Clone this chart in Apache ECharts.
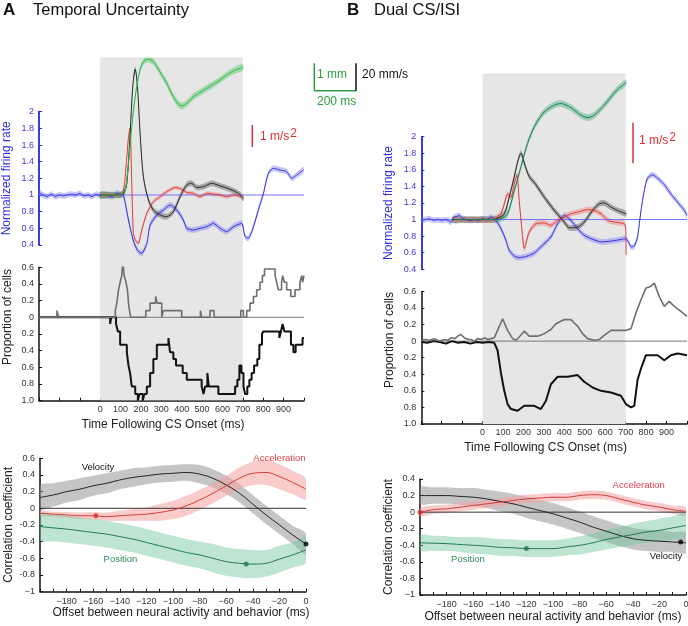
<!DOCTYPE html>
<html><head><meta charset="utf-8">
<script src="https://cdn.jsdelivr.net/npm/echarts@6/dist/echarts.min.js"></script>
<style>html,body{margin:0;padding:0;background:#fff}#c{width:688px;height:626px}</style>
</head><body><div id="c"></div>
<script>
const FONT = '"Liberation Sans", Arial, Helvetica, sans-serif';

// ================= PANEL A : Temporal Uncertainty =================
// firing rate (normalized), time in ms
const tA_fr = [-300,-280,-260,-240,-220,-200,-180,-160,-140,-120,-100,-80,-60,-40,-20,0,20,40,60,80,100,114,139,163,185,204,229,245,278,310,343,376,408,425,457,490,523,556,588,621,654,694,711,727,752,776,801,825,850,882,915,940,964,997];
const frA  = [1.03,1.0,0.98,1.01,0.98,1.0,0.99,1.0,1.01,1.0,1.02,0.99,1.0,0.98,1.01,0.99,1.0,0.99,0.98,1.02,1.01,1.0,0.7,0.45,0.33,0.3,0.42,0.64,0.76,0.82,0.88,0.82,0.7,0.6,0.58,0.6,0.62,0.66,0.6,0.56,0.62,0.66,0.5,0.48,0.62,0.82,1.02,1.26,1.32,1.3,1.28,1.2,1.24,1.3];
const frA_hw = 0.035;
// eye position (arbitrary units drawn on the same scale)
const tA_pos = [0,50,100,110,123,139,155,172,188,204,221,237,261,278,300,327,359,384,400,425,457,490,523,556,588,621,654,699];
const posA   = [1.0,1.0,1.0,1.02,1.06,1.38,1.82,2.18,2.42,2.56,2.62,2.63,2.6,2.54,2.45,2.34,2.18,2.09,2.07,2.1,2.18,2.23,2.28,2.33,2.38,2.44,2.49,2.53];
const posA_hw = 0.04;
// eye velocity
const tA_vel = [0,50,100,115,131,147,160,172,183,196,212,237,261,294,327,359,392,425,449,474,507,547,588,637,678,703];
const velA   = [1.0,1.0,1.0,1.02,1.14,1.74,2.3,2.51,2.3,1.74,1.22,0.94,0.82,0.76,0.74,0.8,0.98,1.12,1.14,1.09,1.1,1.14,1.11,1.07,1.02,0.96];
const velA_hw = 0.035;
// eye acceleration
const tA_acc = [0,50,100,112,123,139,147,155,163,175,188,204,229,261,294,327,368,400,425,457,490,523,556,588,621,654,699];
const accA   = [1.0,1.0,1.0,1.03,1.22,1.7,1.8,1.14,0.54,0.45,0.42,0.58,0.78,0.92,0.98,1.04,1.09,1.07,1.03,1.02,0.98,1.02,1.01,1.0,0.98,1.0,0.98];
const accA_hw = 0.025;
// proportion of cells (increase: up, decrease: down)
const tA_up = [-300,-212,-203,74,82,90,98,106,111,118,127,134,139,144,150,224,245,272,280,302,310,400,492,498,539,559,690,703,719,735,752,768,784,796,806,858,866,874,890,895,904,915,935,956,980,989,993,1000];
const upA   = [0,0.08,0,0.08,0.17,0.33,0.42,0.5,0.67,0.5,0.42,0.33,0.17,0.08,0,0.08,0.17,0.25,0.17,0,0.08,0,0.08,0,0.08,0,0.08,0,0.08,0.17,0.25,0.33,0.42,0.5,0.58,0.5,0.42,0.33,0.42,0.5,0.42,0.33,0.25,0.33,0.42,0.5,0.42,0.5];
const tA_lo = [-300,49,54,78,87,98,131,139,147,155,172,185,193,209,217,229,245,261,278,335,343,359,372,405,425,498,507,515,526,533,580,662,673,683,693,703,711,722,732,743,755,771,781,794,800,879,887,895,904,936,948,959,993,1000];
const loA   = [0,0.08,0,0.08,0.17,0.33,0.42,0.58,0.67,0.83,0.92,1.0,0.92,1.0,0.92,0.83,0.67,0.5,0.33,0.25,0.42,0.5,0.58,0.67,0.75,0.83,0.92,0.83,0.67,0.83,0.92,0.83,0.75,0.58,0.67,0.83,0.92,0.83,0.75,0.67,0.58,0.5,0.33,0.2,0.17,0.25,0.17,0.08,0.17,0.33,0.42,0.33,0.25,0.25];
// correlation vs lag
const lag = [-200,-190,-180,-170,-160,-150,-140,-130,-120,-110,-100,-90,-80,-70,-60,-50,-40,-30,-20,-10,0];
const corrA_vel    = [0.13,0.16,0.2,0.23,0.27,0.3,0.34,0.37,0.39,0.41,0.42,0.43,0.41,0.36,0.28,0.18,0.05,-0.08,-0.2,-0.32,-0.43];
const corrA_vel_hw = [0.14,0.14,0.13,0.13,0.12,0.12,0.11,0.11,0.1,0.1,0.1,0.1,0.11,0.11,0.11,0.11,0.11,0.11,0.11,0.11,0.12];
const corrA_acc    = [-0.06,-0.07,-0.08,-0.09,-0.09,-0.1,-0.09,-0.08,-0.07,-0.05,-0.02,0.03,0.1,0.18,0.27,0.36,0.42,0.43,0.38,0.31,0.23];
const corrA_acc_hw = [0.03,0.03,0.035,0.04,0.045,0.05,0.06,0.07,0.08,0.1,0.11,0.12,0.12,0.12,0.12,0.13,0.14,0.15,0.15,0.14,0.12];
const corrA_pos    = [-0.22,-0.235,-0.25,-0.27,-0.29,-0.31,-0.34,-0.37,-0.41,-0.45,-0.49,-0.53,-0.56,-0.6,-0.64,-0.66,-0.67,-0.66,-0.61,-0.56,-0.5];
const corrA_pos_hw = [0.16,0.16,0.16,0.16,0.16,0.16,0.16,0.16,0.16,0.16,0.16,0.16,0.16,0.17,0.17,0.17,0.17,0.16,0.16,0.15,0.15];
const peakA_acc = [-158,-0.09], peakA_pos = [-45,-0.67], peakA_vel = [0,-0.43];

// ================= PANEL B : Dual CS/ISI =================
const tB_fr = [-300,-280,-260,-240,-220,-200,-180,-155,-139,-125,-114,-100,-80,-60,-40,-20,0,20,41,65,90,114,130,155,180,204,230,255,285,334,367,400,432,465,497,530,579,628,677,701,718,726,742,758,775,791,807,832,856,889,921,954,987,1000];
const frB   = [0.99,1.0,1.01,0.99,1.0,0.99,1.0,0.97,1.03,1.04,1.05,1.02,1.0,0.99,1.0,0.99,1.01,1.0,1.03,0.99,0.89,0.75,0.63,0.56,0.54,0.55,0.57,0.6,0.67,0.79,0.95,1.05,0.99,0.89,0.81,0.77,0.73,0.74,0.76,0.77,0.71,0.67,0.68,0.79,1.11,1.35,1.5,1.54,1.5,1.42,1.31,1.21,1.11,1.05];
const frB_hw = 0.035;
const tB_pos = [-147,-100,-50,0,50,90,122,155,188,220,253,302,351,383,432,481,514,546,595,628,660,701];
const posB   = [1.0,1.0,1.0,1.0,1.0,1.01,1.07,1.35,1.64,1.92,2.12,2.3,2.38,2.4,2.35,2.26,2.23,2.26,2.38,2.48,2.57,2.65];
const posB_hw = 0.04;
const tB_vel = [-147,-100,-50,0,50,70,106,130,155,174,188,204,228,261,302,351,400,424,465,497,538,571,595,628,660,701];
const velB   = [1.0,1.0,1.0,1.0,1.0,1.01,1.07,1.27,1.52,1.72,1.8,1.68,1.52,1.42,1.27,1.11,0.97,0.9,0.91,0.97,1.11,1.19,1.2,1.15,1.11,1.07];
const velB_hw = 0.035;
const tB_acc = [-147,-100,-50,0,50,90,106,122,139,155,168,179,191,204,228,261,302,334,367,400,432,465,514,546,579,612,644,693,700,702];
const accB   = [1.0,1.0,1.0,1.0,1.0,1.07,1.19,1.31,1.27,1.44,1.54,1.23,0.91,0.65,0.85,0.95,0.96,0.93,0.99,1.03,1.07,1.09,1.12,1.11,1.07,0.99,0.97,0.95,0.9,0.57];
const accB_hw = 0.035;
const tB_up = [-300,-285,-260,-236,-210,-188,-170,-155,-135,-122,-106,-90,-70,-57,-40,-24,-5,8,25,41,57,73,98,122,147,163,179,204,228,269,302,334,359,400,432,465,489,514,546,571,595,628,660,701,726,750,775,799,823,840,864,889,913,938,970,1000];
const upB   = [0,0.02,0.01,0.03,0.0,0.02,0.01,0.04,0.03,0.06,0.08,0.04,0.02,0.02,0.0,0.03,0.02,0.04,0.02,0.03,0.04,0.13,0.27,0.13,0.03,0.01,0.05,0.12,0.06,0.06,0.09,0.14,0.21,0.26,0.26,0.18,0.09,0.03,0.01,0.02,0.07,0.13,0.13,0.13,0.15,0.34,0.5,0.64,0.66,0.7,0.54,0.42,0.48,0.42,0.36,0.3];
const tB_lo = [-300,-270,-240,-210,-180,-150,-120,-90,-60,-30,0,30,57,73,90,106,122,139,171,204,253,285,310,334,367,416,465,497,538,579,628,677,701,726,742,758,775,799,856,889,921,954,1000];
const loB   = [0.01,0.02,0,0.01,0.03,0,0.02,0.01,0.03,0.01,0.02,0.01,0.02,0.11,0.39,0.6,0.76,0.82,0.84,0.78,0.78,0.82,0.72,0.52,0.43,0.43,0.41,0.49,0.56,0.6,0.62,0.66,0.76,0.8,0.78,0.47,0.33,0.17,0.17,0.23,0.17,0.15,0.17];
const corrB_vel    = [0.2,0.2,0.2,0.19,0.18,0.16,0.13,0.1,0.06,0.02,-0.02,-0.07,-0.12,-0.18,-0.23,-0.28,-0.32,-0.34,-0.35,-0.36,-0.37];
const corrB_vel_hw = [0.1,0.1,0.1,0.1,0.11,0.11,0.12,0.12,0.13,0.13,0.13,0.13,0.13,0.13,0.13,0.13,0.13,0.13,0.13,0.12,0.12];
const corrB_acc    = [0.0,0.03,0.04,0.06,0.08,0.1,0.12,0.14,0.16,0.17,0.18,0.18,0.2,0.21,0.2,0.16,0.12,0.085,0.06,0.03,0.01];
const corrB_acc_hw = [0.05,0.05,0.05,0.05,0.05,0.05,0.05,0.05,0.05,0.05,0.05,0.05,0.05,0.05,0.05,0.05,0.05,0.05,0.05,0.05,0.05];
const corrB_pos    = [-0.37,-0.375,-0.38,-0.39,-0.4,-0.41,-0.425,-0.43,-0.44,-0.44,-0.44,-0.42,-0.4,-0.37,-0.33,-0.3,-0.27,-0.24,-0.22,-0.19,-0.16];
const corrB_pos_hw = [0.09,0.09,0.09,0.09,0.1,0.1,0.1,0.1,0.1,0.1,0.1,0.1,0.11,0.11,0.12,0.12,0.13,0.13,0.14,0.14,0.15];
const peakB_acc = [-200,0.0], peakB_pos = [-120,-0.44], peakB_vel = [-4,-0.36];

// CS window, axis ranges, baselines and tick labels
const csWindow = [0, 700];
const timeRange = [-300, 1000];
const lagRange = [-200, 0];
const frBaseline = 1, zeroLine = 0;
const timeTickLabels = [0,100,200,300,400,500,600,700,800,900];
const lagTickLabels = [-180,-160,-140,-120,-100,-80,-60,-40,-20,0];

// ================= helpers =================
const C = {
  blue:'#3030e6', blueBand:'rgba(110,110,250,0.38)', blueAxis:'#2828dc', blueRef:'#7070ff',
  greenA:'#2db84a', greenABand:'rgba(70,200,90,0.42)',
  greenB:'#1f7f50', greenBBand:'rgba(70,175,125,0.45)',
  black:'#2a2a2a', blackBand:'rgba(90,90,90,0.45)',
  red:'#e23a3a', redBand:'rgba(240,120,120,0.42)',
  cVelBand:'rgba(150,150,150,0.55)', cAccBand:'rgba(246,160,160,0.55)', cPosBand:'rgba(110,195,155,0.45)',
  cPos:'#1f7a4d', cAcc:'#d63a3a', cVel:'#222', gray:'#e6e6e6', text:'#333'
};
function zip(ts, vs, sign){ return ts.map((t,i)=>[t, sign ? sign*vs[i] : vs[i]]); }
function band(gi, ts, cs, hw, color, smooth, clip){
  const h = i => Array.isArray(hw) ? hw[i] : hw;
  return {
    type:'custom', xAxisIndex:gi, yAxisIndex:gi, silent:true, z:1, clip: clip !== false,
    encode:{x:0,y:1},
    data: ts.map((t,i)=>[t, cs[i]]),
    renderItem(params, api){
      if (params.dataIndex !== 0) return;
      const up = ts.map((t,i)=>api.coord([t, cs[i]+h(i)]));
      const lo = ts.map((t,i)=>api.coord([t, cs[i]-h(i)])).reverse();
      return {type:'polygon', shape:{points: up.concat(lo), smooth: smooth}, style:{fill: color}};
    }
  };
}
function line(gi, data, color, width, opts){
  return Object.assign({type:'line', xAxisIndex:gi, yAxisIndex:gi, data, symbol:'none', silent:true,
    itemStyle:{color}, lineStyle:{color, width}, z:3, animation:false}, opts||{});
}
function dot(gi, p, color){
  return {type:'scatter', xAxisIndex:gi, yAxisIndex:gi, data:[p], symbolSize:5, itemStyle:{color}, z:6, silent:true};
}
// horizontal reference line across the full axis range
function hline(gi, range, value, color){
  return line(gi, range.map(t=>[t, value]), color, 1, {z:2});
}

// ================= layout (px) =================
const grids = [
  {left:39,    top:57.5,  width:265,   height:342.8}, // 0 A background (CS window)
  {left:39,    top:57.5,  width:265,   height:187.5}, // 1 A traces
  {left:39,    top:111.7, width:265,   height:133.3}, // 2 A firing-rate axis
  {left:39,    top:267.3, width:265,   height:133.3}, // 3 A proportion
  {left:40,    top:458.3, width:266,   height:133.3}, // 4 A correlation
  {left:421.3, top:73.5,  width:265.7, height:350.5}, // 5 B background
  {left:421.3, top:73.5,  width:265.7, height:195.8}, // 6 B traces
  {left:421.3, top:136.7, width:265.7, height:132.6}, // 7 B firing-rate axis
  {left:421.3, top:291.4, width:265.7, height:132.6}, // 8 B proportion
  {left:420,   top:479,   width:266,   height:116}    // 9 B correlation
].map(g=>Object.assign({containLabel:false, outerBoundsMode:'none'}, g));

const hidX = (min,max)=>({type:'value', min, max, show:false, splitLine:{show:false}});
const hidY = (min,max)=>({type:'value', min, max, show:false, splitLine:{show:false}});
const axisLbl = {color:C.text, fontSize:9, fontFamily:FONT};
const tickIn = {inside:true, length:3, lineStyle:{color:'#111'}};
const blackLine = {show:true, onZero:false, lineStyle:{color:'#111', width:1.5}};

function timeAxis(gi){
  return {type:'value', gridIndex:gi, min:timeRange[0], max:timeRange[1], interval:100, splitLine:{show:false},
    axisLine:blackLine, axisTick:tickIn,
    axisLabel:Object.assign({margin:4, formatter:v=>timeTickLabels.includes(v)?String(v):''}, axisLbl),
    name:'Time Following CS Onset (ms)', nameLocation:'middle', nameGap:18,
    nameTextStyle:{fontSize:12, color:'#222', fontFamily:FONT, padding:[0,17,0,0]}};
}
function propAxis(gi){
  return {type:'value', gridIndex:gi, min:-1, max:0.6, interval:0.2, splitLine:{show:false},
    axisLine:blackLine, axisTick:tickIn,
    axisLabel:Object.assign({margin:5, formatter:v=>{const a=Math.abs(v); if(a<1e-9) return '0'; return a.toFixed(1);}}, axisLbl)};
}
function frAxis(gi, gap){
  return {type:'value', gridIndex:gi, min:0.4, max:2, interval:0.2, splitLine:{show:false},
    axisLine:{show:true, onZero:false, lineStyle:{color:C.blueAxis, width:1.8}},
    axisTick:{inside:true, length:3, lineStyle:{color:C.blueAxis}},
    axisLabel:{margin:5, color:'#3a3ae0', fontSize:9, fontFamily:FONT},
    name:'Normalized firing rate', nameLocation:'middle', nameGap:gap,
    nameTextStyle:{fontSize:12, color:'#3030e0', fontFamily:FONT}};
}
function lagAxis(gi, gap, pad){
  return {type:'value', gridIndex:gi, min:lagRange[0], max:lagRange[1], interval:10, splitLine:{show:false},
    axisLine:blackLine, axisTick:tickIn,
    axisLabel:Object.assign({margin:5, formatter:v=>lagTickLabels.includes(v)?(v<0?'\u2212'+(-v):String(v)):''}, axisLbl),
    name:'Offset between neural activity and behavior (ms)', nameLocation:'middle', nameGap:gap,
    nameTextStyle:{fontSize:12, color:'#222', fontFamily:FONT, padding:pad}};
}
function corrAxis(gi, max){
  return {type:'value', gridIndex:gi, min:-1, max, interval:0.2, splitLine:{show:false},
    axisLine:blackLine, axisTick:tickIn,
    axisLabel:Object.assign({margin:5, formatter:v=>{ if(Math.abs(v)<1e-9) return '0'; if(v<=-0.999) return '\u22121'; return v<0?'-'+(-v).toFixed(1):v.toFixed(1);}}, axisLbl),
    name:'Correlation coefficient', nameLocation:'middle', nameGap:25,
    nameTextStyle:{fontSize:12, color:'#222', fontFamily:FONT}};
}

const xAxis = [
  Object.assign(hidX(timeRange[0],timeRange[1]),{gridIndex:0}),
  Object.assign(hidX(timeRange[0],timeRange[1]),{gridIndex:1}),
  Object.assign(hidX(timeRange[0],timeRange[1]),{gridIndex:2}),
  timeAxis(3),
  lagAxis(4, 13, [0,0,0,16]),
  Object.assign(hidX(timeRange[0],timeRange[1]),{gridIndex:5}),
  Object.assign(hidX(timeRange[0],timeRange[1]),{gridIndex:6}),
  Object.assign(hidX(timeRange[0],timeRange[1]),{gridIndex:7}),
  timeAxis(8),
  lagAxis(9, 16, [0,0,0,0])
];
const yAxis = [
  Object.assign(hidY(0,1),{gridIndex:0}),
  Object.assign(hidY(0.4,2.65),{gridIndex:1}),
  frAxis(2, 26),
  propAxis(3),
  corrAxis(4, 0.6),
  Object.assign(hidY(0,1),{gridIndex:5}),
  Object.assign(hidY(0.4,2.762),{gridIndex:6}),
  frAxis(7, 27),
  propAxis(8),
  corrAxis(9, 0.4)
];

const csArea = {silent:true, itemStyle:{color:C.gray}, data:[[{xAxis:csWindow[0]},{xAxis:csWindow[1]}]]};

const series = [
  // CS window backgrounds
  {type:'line', xAxisIndex:0, yAxisIndex:0, data:[], z:-10, markArea:csArea},
  {type:'line', xAxisIndex:5, yAxisIndex:5, data:[], z:-10, markArea:csArea},
  {type:'line', xAxisIndex:2, yAxisIndex:2, data:[]},
  {type:'line', xAxisIndex:7, yAxisIndex:7, data:[]},
  // baselines
  hline(1, timeRange, frBaseline, C.blueRef),
  hline(6, timeRange, frBaseline, C.blueRef),
  hline(3, timeRange, zeroLine, '#777'),
  hline(8, timeRange, zeroLine, '#777'),
  hline(4, lagRange, zeroLine, '#333'),
  hline(9, lagRange, zeroLine, '#333'),

  // ---- A traces
  band(1, tA_fr, frA, frA_hw, C.blueBand, 0.3, false),
  band(1, tA_pos, posA, posA_hw, C.greenABand, 0.3),
  band(1, tA_vel, velA, velA_hw, C.blackBand, 0.3),
  band(1, tA_acc, accA, accA_hw, C.redBand, 0.2, false),
  line(1, zip(tA_fr, frA), C.blue, 1, {smooth:0.2, clip:false}),
  line(1, zip(tA_acc, accA), C.red, 1, {smooth:0.2, clip:false}),
  line(1, zip(tA_vel, velA), C.black, 1, {smooth:0.3}),
  line(1, zip(tA_pos, posA), C.greenA, 1, {smooth:0.3}),
  // ---- A proportions
  line(3, zip(tA_lo, loA, -1), '#111', 2, {step:'end'}),
  line(3, zip(tA_up, upA), '#6e6e6e', 1.6, {step:'end'}),
  // ---- A correlation
  band(4, lag, corrA_vel, corrA_vel_hw, C.cVelBand, 0.35),
  band(4, lag, corrA_acc, corrA_acc_hw, C.cAccBand, 0.35),
  band(4, lag, corrA_pos, corrA_pos_hw, C.cPosBand, 0.35),
  line(4, zip(lag, corrA_vel), C.cVel, 1, {smooth:0.4}),
  line(4, zip(lag, corrA_acc), C.cAcc, 1, {smooth:0.4}),
  line(4, zip(lag, corrA_pos), C.cPos, 1, {smooth:0.4}),
  dot(4, peakA_acc, '#d42a2a'), dot(4, peakA_pos, '#1f7a4d'), dot(4, peakA_vel, '#000'),

  // ---- B traces
  band(6, tB_fr, frB, frB_hw, C.blueBand, 0.3),
  band(6, tB_pos, posB, posB_hw, C.greenBBand, 0.3),
  band(6, tB_vel, velB, velB_hw, C.blackBand, 0.3),
  band(6, tB_acc, accB, accB_hw, C.redBand, 0.2),
  line(6, zip(tB_fr, frB), C.blue, 1, {smooth:0.2}),
  line(6, zip(tB_acc, accB), C.red, 1, {smooth:0.2}),
  line(6, zip(tB_vel, velB), C.black, 1, {smooth:0.3}),
  line(6, zip(tB_pos, posB), C.greenB, 1, {smooth:0.3}),
  // ---- B proportions
  line(8, zip(tB_lo, loB, -1), '#111', 2),
  line(8, zip(tB_up, upB), '#6e6e6e', 1.6, {clip:false}),
  // ---- B correlation
  band(9, lag, corrB_vel, corrB_vel_hw, C.cVelBand, 0.35),
  band(9, lag, corrB_acc, corrB_acc_hw, C.cAccBand, 0.35),
  band(9, lag, corrB_pos, corrB_pos_hw, C.cPosBand, 0.35),
  line(9, zip(lag, corrB_vel), C.cVel, 1, {smooth:0.4}),
  line(9, zip(lag, corrB_acc), C.cAcc, 1, {smooth:0.4}),
  line(9, zip(lag, corrB_pos), C.cPos, 1, {smooth:0.4}),
  dot(9, peakB_acc, '#d42a2a'), dot(9, peakB_pos, '#1f7a4d'), dot(9, peakB_vel, '#000')
];

const txt = (x,y,text,o)=>({type:'text', x, y, silent:true, z:20,
  style:Object.assign({text, fill:'#222', font:'12px '+FONT, align:'left', verticalAlign:'middle'}, o||{})});
const seg = (x1,y1,x2,y2,color)=>({type:'line', silent:true, z:20, shape:{x1,y1,x2,y2}, style:{stroke:color, lineWidth:1.5}});
const rot = (x,y,text)=>({type:'text', x, y, rotation:Math.PI/2, silent:true, z:20,
  style:{text, fill:'#222', font:'12px '+FONT, align:'center', verticalAlign:'middle'}});

const graphic = [
  txt(3,10.5,'A',{font:'bold 17px '+FONT, fill:'#111'}),
  txt(33,10.5,'Temporal Uncertainty',{font:'16.5px '+FONT, fill:'#111'}),
  txt(347,10.5,'B',{font:'bold 17px '+FONT, fill:'#111'}),
  txt(374,10.5,'Dual CS/ISI',{font:'16.5px '+FONT, fill:'#111'}),
  // scale bars
  seg(314.3,63.3,314.3,90.7,'#2ca040'), seg(314.3,90.7,356,90.7,'#2ca040'), seg(356,63.3,356,90.7,'#111'),
  txt(317,75,'1 mm',{fill:'#2ca040'}), txt(362,75,'20 mm/s',{fill:'#111'}), txt(317,102,'200 ms',{fill:'#2ca040'}),
  seg(252.3,125,252.3,147,'#e03030'),
  {type:'text', x:260, y:137, silent:true, z:20, style:{text:'{a|1 m/s}{b|2}', verticalAlign:'middle', align:'left',
     rich:{a:{fill:'#e03030', font:'12px '+FONT}, b:{fill:'#e03030', font:'12px '+FONT, padding:[0,0,7,1]}}}},
  seg(633,122.7,633,163.3,'#e03030'),
  {type:'text', x:639, y:141, silent:true, z:20, style:{text:'{a|1 m/s}{b|2}', verticalAlign:'middle', align:'left',
     rich:{a:{fill:'#e03030', font:'12px '+FONT}, b:{fill:'#e03030', font:'12px '+FONT, padding:[0,0,7,1]}}}},
  // proportion axis titles (centred on zero line)
  rot(8,317,'Proportion of cells'),
  rot(390,340,'Proportion of cells'),
  // correlation labels
  txt(98,467,'Velocity',{font:'9.5px '+FONT, fill:'#111', align:'center'}),
  txt(279.5,458,'Acceleration',{font:'9.5px '+FONT, fill:'#e0404a', align:'center'}),
  txt(120.5,559,'Position',{font:'9.5px '+FONT, fill:'#2e8b57', align:'center'}),
  txt(638.7,485.7,'Acceleration',{font:'9.5px '+FONT, fill:'#e0404a', align:'center'}),
  txt(468,559.3,'Position',{font:'9.5px '+FONT, fill:'#2e8b57', align:'center'}),
  txt(666,556.7,'Velocity',{font:'9.5px '+FONT, fill:'#111', align:'center'})
];

const chart = echarts.init(document.getElementById('c'), null, {renderer:'canvas', width:688, height:626});
chart.setOption({
  backgroundColor:'#fff', animation:false,
  textStyle:{fontFamily:FONT},
  grid:grids, xAxis, yAxis, series, graphic
});
</script></body></html>
